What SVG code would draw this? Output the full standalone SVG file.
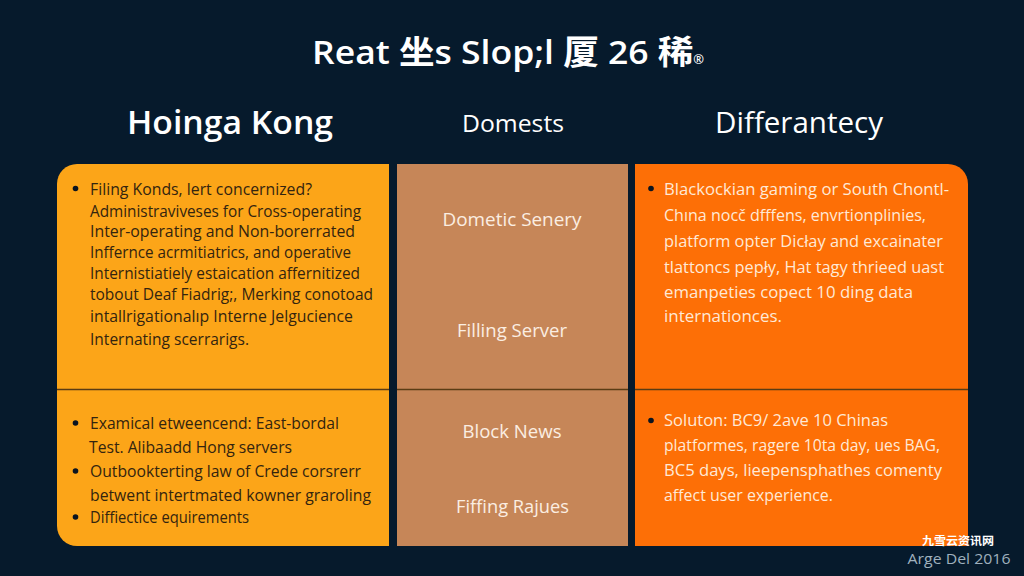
<svg xmlns="http://www.w3.org/2000/svg" width="1024" height="576" viewBox="0 0 1024 576">
<style>
text{font-family:"Open Sans","Noto Sans","Noto Sans CJK SC",sans-serif}
.h{fill:#fff;font-weight:600}
.d{fill:#33240f;font-size:15.5px}
.w{fill:#ffe9d6;font-size:16px}
.m{fill:#fbeee2;font-size:17.5px;text-anchor:middle}
.b{fill:#0a1420}
.l{stroke:#5a3c14;stroke-width:1.4}
</style>
<rect width="1024" height="576" fill="#061a2c"/>
<g id="title">
<text class="h" x="508" y="64" font-size="33" text-anchor="middle" textLength="392" lengthAdjust="spacingAndGlyphs">Reat 坐s Slop;l 厦 26 稀<tspan font-size="12">®</tspan></text>
</g>
<g id="headers">
<text class="h" x="230" y="134" font-size="32" text-anchor="middle" textLength="206" lengthAdjust="spacingAndGlyphs">Hoinga Kong</text>
<text x="513" y="132" font-size="24" fill="#fff" text-anchor="middle" textLength="102" lengthAdjust="spacingAndGlyphs">Domests</text>
<text x="799" y="133" font-size="29" fill="#fff" text-anchor="middle" textLength="168" lengthAdjust="spacingAndGlyphs">Differantecy</text>
</g>
<g id="left-column">
<path d="M389 164H77a20 20 0 0 0-20 20V526a20 20 0 0 0 20 20H389Z" fill="#fca518"/>
<line class="l" x1="57" y1="389.500" x2="389" y2="389.500"/>
<g id="left-top">
<circle class="b" cx="75.500" cy="188.500" r="2.800"/>
<text class="d" x="90" y="195" textLength="222" lengthAdjust="spacingAndGlyphs">Filing Konds, lert concernized?</text>
<text class="d" x="90" y="217" textLength="271" lengthAdjust="spacingAndGlyphs">Administraviveses for Cross-operating</text>
<text class="d" x="90" y="237" textLength="265" lengthAdjust="spacingAndGlyphs">Inter-operating and Non-borerrated</text>
<text class="d" x="90" y="258" textLength="261" lengthAdjust="spacingAndGlyphs">Inffernce acrmitiatrics, and operative</text>
<text class="d" x="90" y="279" textLength="270" lengthAdjust="spacingAndGlyphs">Internistiatiely estaication affernitized</text>
<text class="d" x="90" y="300" textLength="283" lengthAdjust="spacingAndGlyphs">tobout Deaf Fiadrig;, Merking conotoad</text>
<text class="d" x="90" y="322" textLength="263" lengthAdjust="spacingAndGlyphs">intallrigationalıp Interne Jelgucience</text>
<text class="d" x="90" y="345" textLength="159" lengthAdjust="spacingAndGlyphs">Internating scerrarigs.</text>
</g>
<g id="left-bottom">
<circle class="b" cx="75.500" cy="423" r="2.800"/>
<circle class="b" cx="75.500" cy="471" r="2.800"/>
<circle class="b" cx="75.500" cy="517" r="2.800"/>
<text class="d" x="90" y="429" textLength="249" lengthAdjust="spacingAndGlyphs">Examical etweencend: East-bordal</text>
<text class="d" x="89" y="453" textLength="203" lengthAdjust="spacingAndGlyphs">Test. Alibaadd Hong servers</text>
<text class="d" x="90" y="477" textLength="271" lengthAdjust="spacingAndGlyphs">Outbookterting law of Crede corsrerr</text>
<text class="d" x="90" y="501" textLength="281" lengthAdjust="spacingAndGlyphs">betwent intertmated kowner graroling</text>
<text class="d" x="90" y="523" textLength="159" lengthAdjust="spacingAndGlyphs">Diffiectice equirements</text>
</g>
</g>
<g id="middle-column">
<rect x="397" y="164" width="231" height="382" fill="#c68658"/>
<line class="l" x1="397" y1="389.500" x2="628" y2="389.500"/>
<text class="m" x="512" y="226" textLength="139" lengthAdjust="spacingAndGlyphs">Dometic Senery</text>
<text class="m" x="512" y="337" textLength="110" lengthAdjust="spacingAndGlyphs">Filling Server</text>
<text class="m" x="512" y="438" textLength="99" lengthAdjust="spacingAndGlyphs">Block News</text>
<text class="m" x="512.500" y="513" textLength="113" lengthAdjust="spacingAndGlyphs">Fiffing Rajues</text>
</g>
<g id="right-column">
<path d="M635 164H948a20 20 0 0 1 20 20V546H635Z" fill="#fd6f06"/>
<line class="l" x1="635" y1="389.500" x2="968" y2="389.500"/>
<g id="right-top">
<circle class="b" cx="651" cy="188.500" r="2.800"/>
<text class="w" x="664" y="195" textLength="285" lengthAdjust="spacingAndGlyphs">Blackockian gaming or South Chontl-</text>
<text class="w" x="664" y="221" textLength="262" lengthAdjust="spacingAndGlyphs">Chına nocč dfffens, envrtionplinies,</text>
<text class="w" x="664" y="247" textLength="279" lengthAdjust="spacingAndGlyphs">platform opter Dicłay and excainater</text>
<text class="w" x="664" y="273" textLength="280" lengthAdjust="spacingAndGlyphs">tlattoncs pepły, Hat tagy thrieed uast</text>
<text class="w" x="664" y="298" textLength="249" lengthAdjust="spacingAndGlyphs">emanpeties copect 10 ding data</text>
<text class="w" x="664" y="322" textLength="118" lengthAdjust="spacingAndGlyphs">internationces.</text>
</g>
<g id="right-bottom">
<circle class="b" cx="651" cy="420.500" r="2.800"/>
<text class="w" x="664" y="426" textLength="224" lengthAdjust="spacingAndGlyphs">Soluton: BC9/ 2ave 10 Chinas</text>
<text class="w" x="664" y="451" textLength="276" lengthAdjust="spacingAndGlyphs">platformes, ragere 10ta day, ues BAG,</text>
<text class="w" x="664" y="476" textLength="278" lengthAdjust="spacingAndGlyphs">BC5 days, lieepensphathes comenty</text>
<text class="w" x="664" y="501" textLength="169" lengthAdjust="spacingAndGlyphs">affect user experience.</text>
</g>
</g>
<g id="footer">
<text x="958" y="545" font-size="11" font-weight="700" fill="#fff" text-anchor="middle" textLength="72" lengthAdjust="spacingAndGlyphs">九雪云资讯网</text>
<text x="959" y="564" font-size="14" fill="#9fb0bd" text-anchor="middle" textLength="103" lengthAdjust="spacingAndGlyphs">Arge Del 2016</text>
</g>
</svg>
